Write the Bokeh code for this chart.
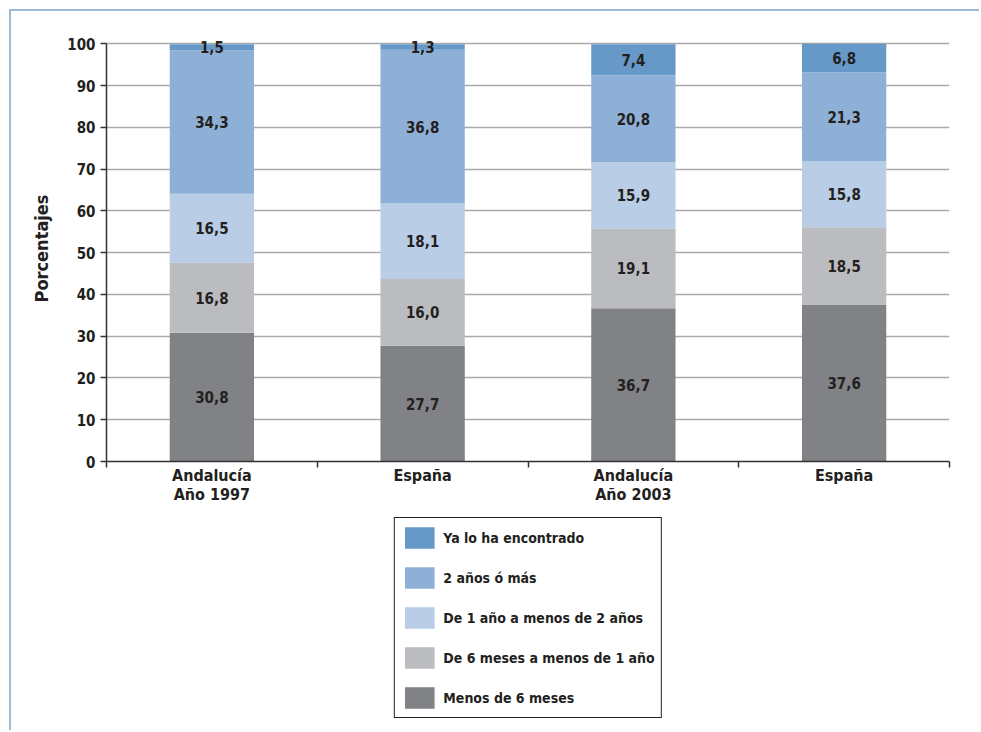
import numpy as np
from bokeh.plotting import figure
from bokeh.layouts import column
from bokeh.models import (ColumnDataSource, FixedTicker, Legend, LegendItem,
                          Range1d)
from bokeh.core.properties import value
from bokeh.embed import file_html
from bokeh.resources import INLINE

FONT = "DejaVu Sans Condensed"

# Groups along the x axis (two-line labels)
groups = ["Andalucía\nAño 1997", "España", "Andalucía\nAño 2003", "España"]

# Stack series, bottom to top
series = ["Menos de 6 meses", "De 6 meses a menos de 1 año",
          "De 1 año a menos de 2 años", "2 años ó más", "Ya lo ha encontrado"]
menos_6m = [30.8, 27.7, 36.7, 37.6]
de_6m_1a = [16.8, 16.0, 19.1, 18.5]
de_1a_2a = [16.5, 18.1, 15.9, 15.8]
mas_2a = [34.3, 36.8, 20.8, 21.3]
encontrado = [1.5, 1.3, 7.4, 6.8]
colors = ["#808285", "#bbbcc0", "#b9cde6", "#8fb0d6", "#6699c8"]

y_ticks = list(range(0, 101, 10))

values = [menos_6m, de_6m_1a, de_1a_2a, mas_2a, encontrado]
xpos = np.arange(len(groups)) + 0.5
keys = [f"s{i}" for i in range(len(series))]
data = {"x": xpos}
for k, v in zip(keys, values):
    data[k] = v
source = ColumnDataSource(data)

BLUE_LINE = "2px solid #9bbbd9"

# ---- main chart -------------------------------------------------------
p = figure(width=970, height=500, output_backend="svg", toolbar_location=None,
           x_range=Range1d(0, len(groups)), y_range=Range1d(0, 102),
           min_border_left=95, min_border_right=32,
           min_border_top=24, min_border_bottom=50)
p.outline_line_color = None
p.background_fill_color = "white"
p.border_fill_color = "white"
p.styles = {"margin-left": "9px", "margin-top": "9px",
            "border-left": BLUE_LINE, "border-top": BLUE_LINE}

p.vbar_stack(keys, x="x", width=0.4, color=colors, source=source,
             line_color=None)

# Value labels at the middle of each segment
arr = np.array(values)
tops = np.cumsum(arr, axis=0)
mids = tops - arr / 2
lx, ly, lt = [], [], []
for i in range(arr.shape[0]):
    for j in range(arr.shape[1]):
        lx.append(xpos[j])
        ly.append(mids[i, j])
        lt.append(f"{arr[i, j]:.1f}".replace(".", ","))
p.text(x=lx, y=ly, text=lt, text_align="center", text_baseline="middle",
       text_font=value(FONT), text_font_style="bold", text_font_size="15px",
       text_color="#231f20")

# Axes
p.yaxis.ticker = FixedTicker(ticks=y_ticks)
p.yaxis.bounds = (0, 100)
p.yaxis.axis_label = "Porcentajes"
p.yaxis.axis_label_text_font = FONT
p.yaxis.axis_label_text_font_style = "bold"
p.yaxis.axis_label_text_font_size = "18px"
p.yaxis.axis_label_text_color = "#231f20"
p.yaxis.axis_label_standoff = 12
p.yaxis.major_label_text_font = FONT
p.yaxis.major_label_text_font_style = "bold"
p.yaxis.major_label_text_font_size = "15px"
p.yaxis.major_label_text_color = "#231f20"
p.yaxis.major_label_standoff = 5
p.yaxis.major_tick_out = 6
p.yaxis.major_tick_in = 0
p.yaxis.minor_tick_line_color = None
p.yaxis.axis_line_color = "#333333"
p.yaxis.axis_line_width = 1.5
p.yaxis.major_tick_line_color = "#333333"
p.yaxis.major_tick_line_width = 1.5

p.xaxis.ticker = FixedTicker(ticks=list(xpos),
                             minor_ticks=list(range(len(groups) + 1)))
p.xaxis.major_label_overrides = {float(x): g for x, g in zip(xpos, groups)}
p.xaxis.major_label_text_font = FONT
p.xaxis.major_label_text_font_style = "bold"
p.xaxis.major_label_text_font_size = "16px"
p.xaxis.major_label_text_line_height = 1.05
p.xaxis.major_label_text_color = "#231f20"
p.xaxis.major_label_standoff = -2
p.xaxis.major_tick_line_color = None
p.xaxis.major_tick_out = 0
p.xaxis.major_tick_in = 0
p.xaxis.minor_tick_out = 6
p.xaxis.minor_tick_in = 0
p.xaxis.minor_tick_line_color = "#333333"
p.xaxis.minor_tick_line_width = 1.5
p.xaxis.axis_line_color = "#333333"
p.xaxis.axis_line_width = 1.5

p.xgrid.grid_line_color = None
p.ygrid.ticker = FixedTicker(ticks=y_ticks[1:])
p.ygrid.grid_line_color = "#aaaaaa"
p.ygrid.grid_line_width = 1.5
p.ygrid.level = "underlay"

# ---- legend panel under the chart ---------------------------------------
q = figure(width=970, height=221, output_backend="svg", toolbar_location=None,
           x_axis_type=None, y_axis_type=None,
           min_border_left=58, min_border_right=0,
           min_border_top=0, min_border_bottom=0)
q.outline_line_color = None
q.background_fill_color = "white"
q.border_fill_color = "white"
q.styles = {"margin-left": "9px", "border-left": BLUE_LINE}

# Same stacked series, kept hidden here: they only supply the legend swatches
swatches = q.vbar_stack(keys, x="x", width=0.4, color=colors, source=source,
                        line_color=None)
for r in swatches:
    r.visible = False

items = [LegendItem(label=s, renderers=[r])
         for s, r in zip(series[::-1], swatches[::-1])]
legend = Legend(items=items, location="top_center", orientation="vertical",
                glyph_width=37, glyph_height=27, spacing=13, padding=6,
                label_standoff=6, border_line_color="#231f20",
                border_line_alpha=1, border_line_width=1.5, margin=8,
                inactive_fill_alpha=0,
                label_text_font=FONT, label_text_font_style="bold",
                label_text_font_size="14px", label_text_color="#231f20",
                background_fill_alpha=1)
q.add_layout(legend)

layout = column(p, q, spacing=0)
open("out.html", "w").write(file_html(layout, INLINE))
